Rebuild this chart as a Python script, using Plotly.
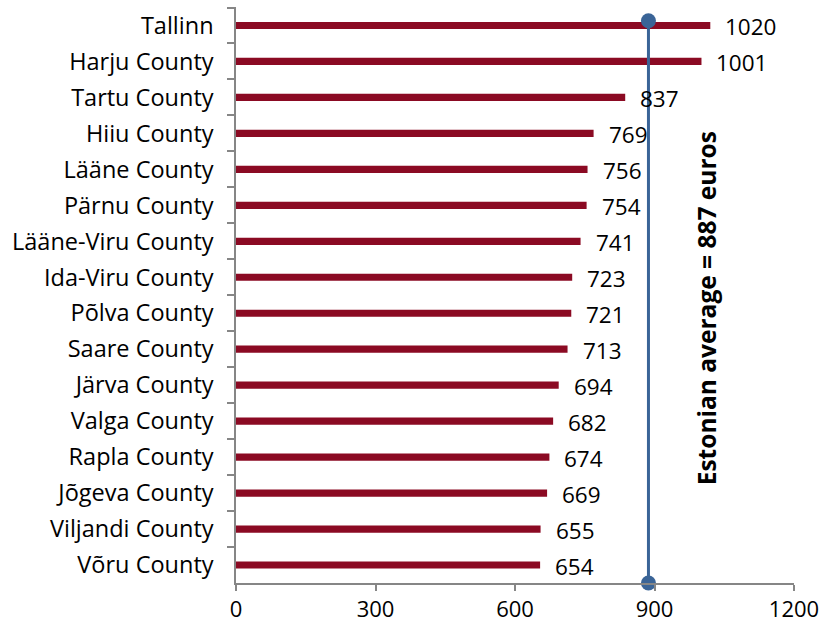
import plotly.graph_objects as go

# Average gross monthly wages by county, euros
regions = [
    "Tallinn", "Harju County", "Tartu County", "Hiiu County", "Lääne County",
    "Pärnu County", "Lääne-Viru County", "Ida-Viru County", "Põlva County",
    "Saare County", "Järva County", "Valga County", "Rapla County",
    "Jõgeva County", "Viljandi County", "Võru County",
]
wages = [1020, 1001, 837, 769, 756, 754, 741, 723, 721, 713, 694, 682, 674, 669, 655, 654]
national_average = 887
x_ticks = [0, 300, 600, 900, 1200]

FONT = "Open Sans"
BAR_COLOR = "#8B0A23"
LINE_COLOR = "#3A6497"
AXIS_COLOR = "#868686"

fig = go.Figure()

fig.add_trace(go.Bar(
    x=wages,
    y=regions,
    orientation="h",
    marker=dict(color=BAR_COLOR, line=dict(width=0)),
    width=0.2,
    hoverinfo="x+y",
    showlegend=False,
))

# value labels to the right of each bar
for name, val in zip(regions, wages):
    fig.add_annotation(
        x=val, y=name, xref="x", yref="y",
        text=str(val), showarrow=False,
        xanchor="left", yanchor="middle", xshift=13, yshift=-1,
        font=dict(family=FONT, size=22.5, color="#000000"),
    )

# national average marker line
fig.add_trace(go.Scatter(
    x=[national_average, national_average],
    y=[0.0, 0.976],
    yaxis="y2",
    mode="lines+markers",
    line=dict(color=LINE_COLOR, width=3),
    marker=dict(color=LINE_COLOR, size=15),
    cliponaxis=False,
    showlegend=False,
    hoverinfo="skip",
))

fig.add_annotation(
    x=1020, y=0.5, xref="x", yref="paper",
    text="<b>Estonian average = %d euros</b>" % national_average,
    textangle=-90, showarrow=False,
    xanchor="center", yanchor="middle", xshift=-4, yshift=-13,
    font=dict(family=FONT, size=24.5, color="#000000"),
)

fig.update_layout(
    width=822, height=623,
    margin=dict(l=236, r=28, t=7, b=40),
    paper_bgcolor="white",
    plot_bgcolor="white",
    font=dict(family=FONT, size=23, color="#000000"),
    xaxis=dict(
        range=[0, 1200],
        tickvals=x_ticks,
        ticktext=[str(t) for t in x_ticks],
        showgrid=False, zeroline=False,
        showline=True, linecolor=AXIS_COLOR, linewidth=1.5,
        ticks="outside", ticklen=6, tickcolor=AXIS_COLOR, tickwidth=1.5,
        tickfont=dict(family=FONT, size=22, color="#000000"),
        ticklabelstandoff=0,
        automargin=False,
    ),
    yaxis=dict(
        categoryorder="array", categoryarray=regions,
        autorange="reversed",
        showgrid=False, zeroline=False,
        showline=True, linecolor=AXIS_COLOR, linewidth=1.5,
        ticks="outside", ticklen=7, tickcolor=AXIS_COLOR, tickwidth=1.5,
        tickson="boundaries",
        tickfont=dict(family=FONT, size=23.5, color="#000000"),
        ticklabelstandoff=16,
        automargin=False,
    ),
    yaxis2=dict(
        overlaying="y", range=[0, 1], visible=False, fixedrange=True,
    ),
    bargap=0.8,
)

fig.write_html("out.html")
